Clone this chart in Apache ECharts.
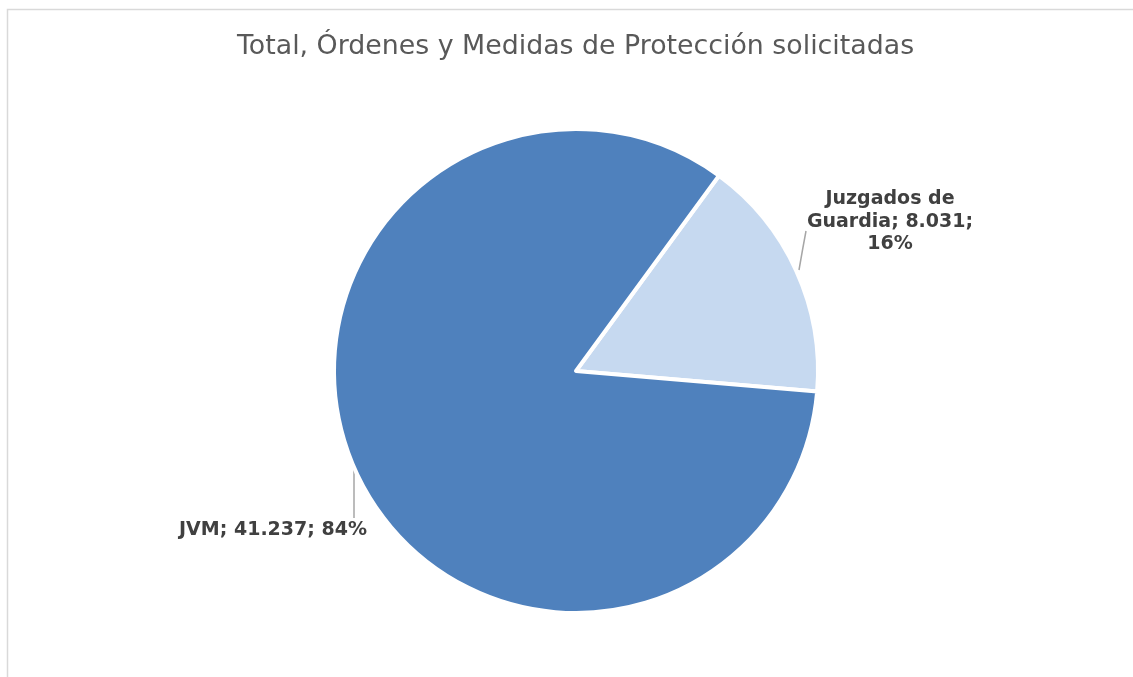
<!DOCTYPE html>
<html>
<head>
<meta charset="utf-8">
<script src="https://cdn.jsdelivr.net/npm/echarts@6/dist/echarts.min.js"></script>
<style>
html,body{margin:0;padding:0;background:#fff;}
#chart{width:1133px;height:677px;}
</style>
</head>
<body>
<div id="chart"></div>
<script>
const categories = ['Juzgados de Guardia', 'JVM'];
const values = [8031, 41237];
const percents = ['16%', '84%'];
const valueLabels = ['8.031', '41.237'];
const colors = ['#C6D9F0', '#4F81BD'];

const FONT = '"DejaVu Sans", Verdana, sans-serif';
const chart = echarts.init(document.getElementById('chart'));
const data = categories.map((c, i) => ({
  name: c,
  value: values[i],
  itemStyle: { color: colors[i] }
}));

const labelTexts = [
  'Juzgados de\nGuardia; ' + valueLabels[0] + ';\n' + percents[0],
  categories[1] + '; ' + valueLabels[1] + '; ' + percents[1]
];

chart.setOption({
  animation: false,
  backgroundColor: '#fff',
  graphic: [{
    type: 'rect',
    shape: { x: 7.5, y: 9.5, width: 1200, height: 800 },
    style: { fill: 'none', stroke: '#d9d9d9', lineWidth: 1.5 },
    silent: true
  }],
  title: {
    text: 'Total, Órdenes y Medidas de Protección solicitadas',
    left: 232,
    top: 29,
    textStyle: {
      fontFamily: FONT,
      fontSize: 26.8,
      fontWeight: 'normal',
      color: '#595959'
    }
  },
  series: [{
    type: 'pie',
    center: [576, 371],
    radius: [0, 242],
    startAngle: 53.8,
    clockwise: true,
    data: data,
    itemStyle: { borderColor: '#fff', borderWidth: 4 },
    label: {
      show: true,
      formatter: p => labelTexts[p.dataIndex],
      fontFamily: FONT,
      fontSize: 19,
      fontWeight: 'bold',
      color: '#404040',
      lineHeight: 22.5,
      align: 'center'
    },
    labelLine: {
      show: true,
      lineStyle: { color: '#a6a6a6', width: 1.5 }
    },
    labelLayout: function (params) {
      if (params.dataIndex === 0) {
        return {
          x: 890, y: 222, align: 'center', verticalAlign: 'middle',
          labelLinePoints: [[799, 270], [802.5, 250], [806, 231]]
        };
      }
      return {
        x: 273, y: 530, align: 'center', verticalAlign: 'middle',
        labelLinePoints: [[354, 470], [354, 494], [354, 518]]
      };
    },
    emphasis: { disabled: true }
  }]
});
</script>
</body>
</html>
